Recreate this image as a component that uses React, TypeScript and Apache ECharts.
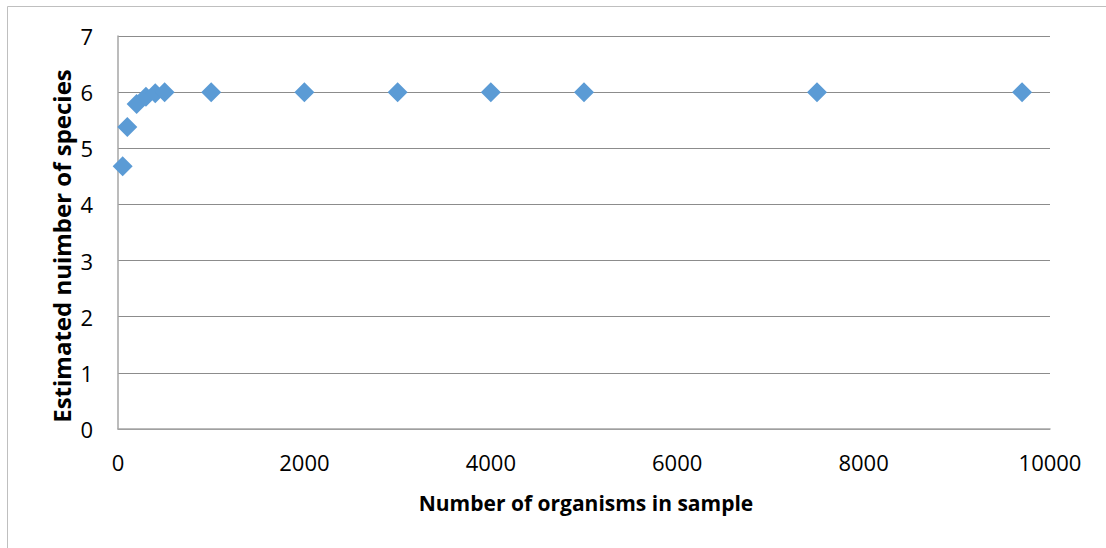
import React, { useEffect, useRef } from "react";
import * as echarts from "echarts";

const organisms = [50, 100, 200, 300, 400, 500, 1000, 2000, 3000, 4000, 5000, 7500, 9700];
const species = [4.68, 5.38, 5.79, 5.92, 5.98, 6.0, 6.0, 6.0, 6.0, 6.0, 6.0, 6.0, 6.0];
const xTitle = "Number of organisms in sample";
const yTitle = "Estimated nuimber of species";

export default function App() {
  const ref = useRef<HTMLDivElement>(null);
  useEffect(() => {
    document.body.style.margin = "0";
    const chart = echarts.init(ref.current!, null, { renderer: "svg" });
    const font = "Open Sans, Liberation Sans, sans-serif";
    chart.setOption({
      animation: false,
      backgroundColor: "#ffffff",
      graphic: [
        {
          type: "rect",
          shape: { x: 7.5, y: 6.5, width: 1120, height: 580 },
          style: { fill: "none", stroke: "#bfbfbf", lineWidth: 1 },
          silent: true,
        },
        {
          type: "text",
          x: 586,
          y: 503,
          style: {
            text: xTitle,
            fontFamily: font,
            fontSize: 21,
            fontWeight: "bold",
            fill: "#000",
            align: "center",
            verticalAlign: "middle",
          },
        },
        {
          type: "text",
          x: 61,
          y: 246,
          rotation: Math.PI / 2,
          style: {
            text: yTitle,
            fontFamily: font,
            fontSize: 24,
            fontWeight: "bold",
            fill: "#000",
            align: "center",
            verticalAlign: "middle",
          },
        },
      ],
      grid: { left: 118, top: 36, width: 932, height: 393 },
      xAxis: {
        type: "value",
        min: 0,
        max: 10000,
        interval: 2000,
        axisLine: { show: true, lineStyle: { color: "#a6a6a6", width: 1.5 } },
        axisTick: { show: false },
        splitLine: { show: false },
        axisLabel: {
          fontFamily: font,
          fontSize: 22,
          color: "#000",
          margin: 22,
          formatter: (v: number) => String(v),
        },
      },
      yAxis: {
        type: "value",
        min: 0,
        max: 7,
        interval: 1,
        axisLine: { show: true, lineStyle: { color: "#a6a6a6", width: 1.5 } },
        axisTick: { show: false },
        splitLine: { show: true, lineStyle: { color: "#8c8c8c", width: 1 } },
        axisLabel: { fontFamily: font, fontSize: 22, color: "#000", margin: 25 },
      },
      series: [
        {
          type: "scatter",
          symbol: "diamond",
          symbolSize: 20,
          itemStyle: { color: "#5b9bd5", opacity: 1 },
          data: organisms.map((x, i) => [x, species[i]]),
        },
      ],
    });
    return () => chart.dispose();
  }, []);
  return <div ref={ref} style={{ width: 1106, height: 548 }} />;
}
